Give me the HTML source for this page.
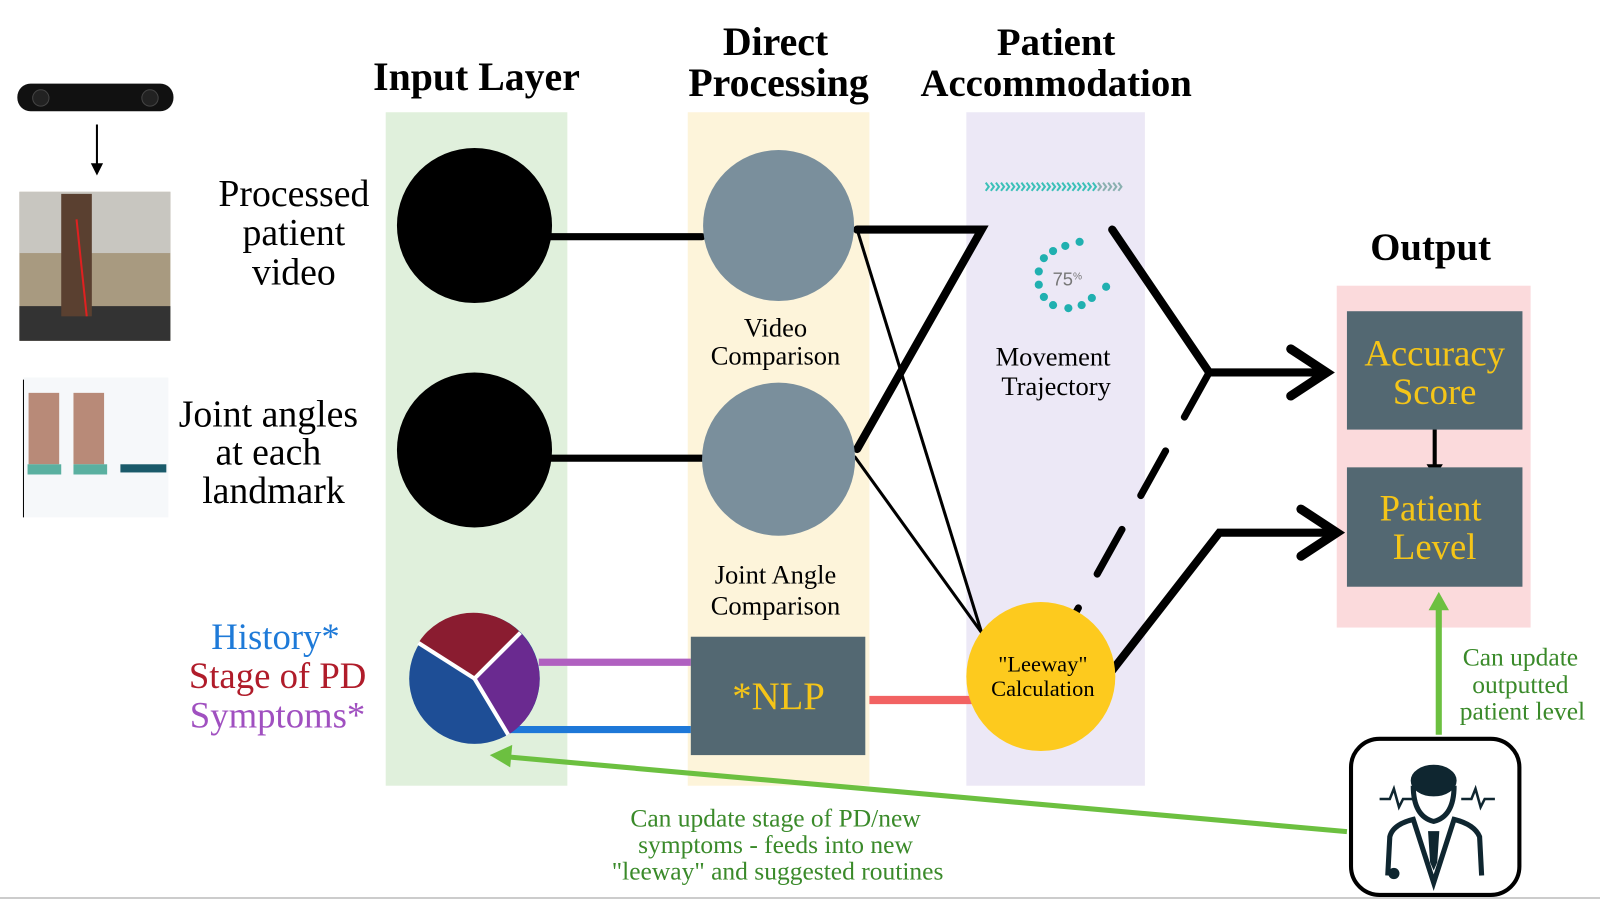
<!DOCTYPE html>
<html><head><meta charset="utf-8"><style>html,body{margin:0;padding:0;background:#fff}svg{display:block}</style></head>
<body>
<svg width="1600" height="900" viewBox="0 0 1568 882" xmlns="http://www.w3.org/2000/svg" font-family="Liberation Serif, serif">
<rect width="1568" height="882" fill="#fff"/>
<rect x="378" y="110" width="178" height="660" fill="#e0f0dc"/>
<rect x="674" y="110" width="178" height="660" fill="#fdf4da"/>
<rect x="947" y="110" width="175" height="660" fill="#ece8f6"/>
<rect x="1310" y="280" width="190" height="335" fill="#fbdadc"/>
<g font-weight="bold" font-size="39" text-anchor="middle" fill="#000">
<text x="467" y="88">Input Layer</text>
<text x="760" y="54">Direct</text><text x="763" y="94">Processing</text>
<text x="1035" y="54" font-size="38">Patient</text><text x="1035" y="94" font-size="38">Accommodation</text>
<text x="1402" y="255" font-size="38">Output</text>
</g>
<rect x="17" y="82" width="153" height="27" rx="13" fill="#111"/>
<circle cx="40" cy="96" r="8" fill="#222" stroke="#444"/><circle cx="147" cy="96" r="8" fill="#222" stroke="#444"/>
<line x1="95" y1="122" x2="95" y2="162" stroke="#000" stroke-width="2"/>
<polygon points="89,160 101,160 95,172" fill="#000"/>
<rect x="19" y="188" width="148" height="146" fill="#a89a80"/>
<rect x="19" y="188" width="148" height="60" fill="#c8c6c0"/>
<rect x="19" y="300" width="148" height="34" fill="#333"/>
<rect x="60" y="190" width="30" height="120" fill="#5a4030"/>
<line x1="75" y1="215" x2="85" y2="310" stroke="#e02020" stroke-width="2"/>
<rect x="23" y="370" width="142" height="137" fill="#f6f8fa"/>
<line x1="23" y1="372" x2="23" y2="507" stroke="#000"/>
<rect x="28" y="385" width="30" height="70" fill="#b88a78"/><rect x="72" y="385" width="30" height="70" fill="#b88a78"/>
<rect x="27" y="455" width="33" height="10" fill="#5ab0a0"/><rect x="72" y="455" width="33" height="10" fill="#5ab0a0"/>
<rect x="118" y="455" width="45" height="8" fill="#1a5a6a"/>
<g font-size="37" text-anchor="middle" fill="#000">
<text x="288" y="202">Processed</text><text x="288" y="240">patient</text><text x="288" y="279">video</text>
<text x="263" y="418">Joint angles</text><text x="263" y="455">at each</text><text x="268" y="493">landmark</text>
</g>
<g font-size="36" text-anchor="middle">
<text x="270" y="636" fill="#1e7ad8">History*</text>
<text x="272" y="674" fill="#b01c2a">Stage of PD</text>
<text x="272" y="713" fill="#a050c0">Symptoms*</text>
</g>
<g stroke="#000" stroke-linecap="round" fill="none">
<line x1="530" y1="232" x2="688" y2="232" stroke-width="7"/>
<line x1="530" y1="449" x2="688" y2="449" stroke-width="7"/>
<polyline points="840,225 962,225 840,440" stroke-width="8"/>
<line x1="840" y1="225" x2="962" y2="620" stroke-width="3"/>
<line x1="838" y1="448" x2="962" y2="620" stroke-width="3"/>
<polyline points="1090,225 1185,365 1300,365" stroke-width="8"/>
<polyline points="1265,342 1300,365 1265,388" stroke-width="9"/>
<line x1="1185" y1="365" x2="1050" y2="608" stroke-width="7" stroke-dasharray="50,38"/>
<polyline points="1090,657 1195,522 1308,522" stroke-width="8"/>
<polyline points="1275,499 1310,522 1275,545" stroke-width="9"/>
<line x1="1406" y1="416" x2="1406" y2="458" stroke-width="4"/>
</g>
<polygon points="1398,455 1414,455 1406,468" fill="#000"/>
<line x1="528" y1="649" x2="677" y2="649" stroke="#b060c0" stroke-width="7"/>
<line x1="500" y1="715" x2="677" y2="715" stroke="#1e78d8" stroke-width="7"/>
<line x1="852" y1="686" x2="958" y2="686" stroke="#f26262" stroke-width="8"/>
<circle cx="465" cy="221" r="76" fill="#000"/>
<circle cx="465" cy="441" r="76" fill="#000"/>
<circle cx="763" cy="221" r="74" fill="#7a8f9c"/>
<circle cx="763" cy="450" r="75" fill="#7a8f9c"/>
<g font-size="26" text-anchor="middle" fill="#000">
<text x="760" y="330">Video</text><text x="760" y="357">Comparison</text>
<text x="760" y="572">Joint Angle</text><text x="760" y="602">Comparison</text>
<text x="1032" y="358">Movement</text><text x="1035" y="387">Trajectory</text>
</g>
<circle cx="465" cy="665" r="64" fill="#1e4e96"/>
<path d="M465,665 L410,630 A64,64 0 0 1 510,620 Z" fill="#8a1c30"/>
<path d="M465,665 L510,620 A64,64 0 0 1 498,720 Z" fill="#6a2a90"/>
<g stroke="#fff" stroke-width="4"><line x1="465" y1="665" x2="410" y2="630"/><line x1="465" y1="665" x2="510" y2="620"/><line x1="465" y1="665" x2="498" y2="720"/></g>
<rect x="677" y="624" width="171" height="116" fill="#536872"/>
<text x="763" y="695" font-size="38" text-anchor="middle" fill="#f5c518">*NLP</text>
<circle cx="1020" cy="663" r="73" fill="#fdca1e"/>
<text x="1022" y="658" font-size="22" text-anchor="middle">"Leeway"</text>
<text x="1022" y="682" font-size="22" text-anchor="middle">Calculation</text>
<g fill="none" stroke-width="2">
<path d="M966,179 l3,4 l-3,4 M971,179 l3,4 l-3,4 M976,179 l3,4 l-3,4 M981,179 l3,4 l-3,4 M986,179 l3,4 l-3,4 M991,179 l3,4 l-3,4 M996,179 l3,4 l-3,4 M1001,179 l3,4 l-3,4 M1006,179 l3,4 l-3,4 M1011,179 l3,4 l-3,4 M1016,179 l3,4 l-3,4 M1021,179 l3,4 l-3,4 M1026,179 l3,4 l-3,4 M1031,179 l3,4 l-3,4 M1036,179 l3,4 l-3,4 M1041,179 l3,4 l-3,4 M1046,179 l3,4 l-3,4 M1051,179 l3,4 l-3,4 M1056,179 l3,4 l-3,4 M1061,179 l3,4 l-3,4 M1066,179 l3,4 l-3,4 M1071,179 l3,4 l-3,4" stroke="#3cc0b8"/>
<path d="M1076,179 l3,4 l-3,4 M1081,179 l3,4 l-3,4 M1086,179 l3,4 l-3,4 M1091,179 l3,4 l-3,4 M1096,179 l3,4 l-3,4" stroke="#8ab0b0"/>
</g>
<g fill="#20b0b0">
<circle cx="1058" cy="237" r="4"/><circle cx="1044" cy="241" r="4"/><circle cx="1032" cy="246" r="4"/><circle cx="1023" cy="253" r="4"/><circle cx="1018" cy="266" r="4"/><circle cx="1018" cy="279" r="4"/><circle cx="1023" cy="291" r="4"/><circle cx="1032" cy="299" r="4"/><circle cx="1047" cy="302" r="4"/><circle cx="1060" cy="299" r="4"/><circle cx="1070" cy="292" r="4"/><circle cx="1084" cy="281" r="4"/>
</g>
<text x="1046" y="280" font-size="18" fill="#777" text-anchor="middle" font-family="Liberation Sans, sans-serif">75<tspan font-size="10" dy="-6">%</tspan></text>
<rect x="1320" y="305" width="172" height="116" fill="#536872"/>
<rect x="1320" y="458" width="172" height="117" fill="#536872"/>
<g font-size="36" text-anchor="middle" fill="#f5c518">
<text x="1406" y="358">Accuracy</text><text x="1406" y="396">Score</text>
<text x="1402" y="510">Patient</text><text x="1406" y="548">Level</text>
</g>
<line x1="1410" y1="720" x2="1410" y2="595" stroke="#6cc040" stroke-width="6"/>
<polygon points="1400,598 1420,598 1410,580" fill="#6cc040"/>
<line x1="1320" y1="815" x2="500" y2="742" stroke="#6cc040" stroke-width="5"/>
<polygon points="480,740 502,730 500,752" fill="#6cc040"/>
<g font-size="25" text-anchor="middle" fill="#3a8a2a">
<text x="1490" y="652">Can update</text><text x="1490" y="679">outputted</text><text x="1492" y="705">patient level</text>
<text x="760" y="810">Can update stage of PD/new</text><text x="760" y="836">symptoms - feeds into new</text><text x="762" y="862">"leeway" and suggested routines</text>
</g>
<rect x="1324" y="724" width="165" height="153" rx="28" fill="#fff" stroke="#000" stroke-width="4"/>
<g fill="#0f2630" stroke="#0f2630">
<ellipse cx="1405" cy="765" rx="22" ry="15"/>
<path d="M1385,770 Q1385,800 1405,805 Q1425,800 1425,770" fill="none" stroke-width="5"/>
<path d="M1360,858 L1362,820 Q1365,808 1385,803 L1405,865 L1425,803 Q1445,808 1450,820 L1452,858" fill="none" stroke-width="5"/>
<path d="M1400,815 L1410,815 L1408,845 L1405,852 L1402,845 Z"/>
<circle cx="1366" cy="856" r="5"/>
<path d="M1352,783 h10 l4,-10 l5,18 l4,-8 h10 M1432,783 h10 l4,-10 l5,18 l4,-8 h10" fill="none" stroke-width="2.5"/>
</g>
<line x1="0" y1="880" x2="1568" y2="880" stroke="#ccc" stroke-width="2"/>
</svg>
</body></html>
